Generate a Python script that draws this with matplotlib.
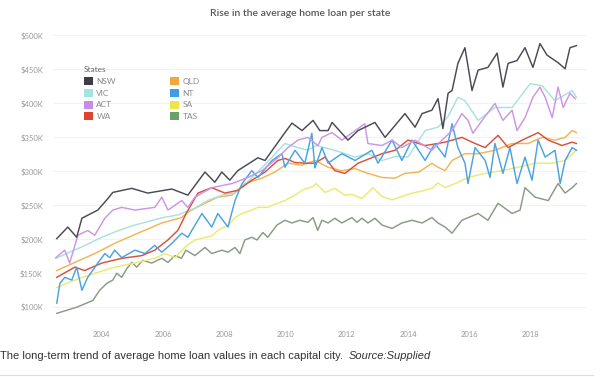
import matplotlib
matplotlib.use("Agg")
import matplotlib.pyplot as plt
from matplotlib.patches import Patch

# ---------------- data (values in $K, x in decimal years) ----------------
nsw_years = [2002.53, 2002.89, 2003.18, 2003.35, 2003.87, 2004.2, 2004.36, 2004.98, 2005.5, 2006.29,
             2006.81, 2007.37, 2007.69, 2007.92, 2008.18, 2008.44, 2009.1, 2009.33, 2009.98, 2010.21,
             2010.54, 2010.9, 2011.12, 2011.39, 2011.52, 2012.04, 2012.37, 2012.92, 2013.25, 2013.9,
             2014.23, 2014.46, 2014.78, 2014.98, 2015.14, 2015.31, 2015.44, 2015.63, 2015.86, 2016.09,
             2016.29, 2016.61, 2016.91, 2017.1, 2017.27, 2017.56, 2017.82, 2018.08, 2018.31, 2018.54,
             2018.9, 2019.13, 2019.29, 2019.5]
nsw_vals = [201, 218, 203, 231, 243, 260, 269, 275, 268, 274,
            265, 299, 284, 299, 287, 301, 320, 316, 357, 371,
            360, 375, 360, 360, 372, 346, 360, 372, 350, 385,
            365, 385, 390, 407, 363, 415, 419, 459, 482, 419,
            449, 453, 474, 424, 459, 463, 482, 453, 488, 471,
            460, 451, 482, 485]

vic_years = [2002.5, 2003.0, 2003.5, 2004.0, 2004.5, 2005.0, 2005.5, 2006.0, 2006.5, 2007.0,
             2007.5, 2008.0, 2008.35, 2008.7, 2009.0, 2009.5, 2009.98, 2010.4, 2010.73, 2011.0,
             2011.61, 2012.27, 2012.7, 2013.15, 2013.6, 2014.0, 2014.56, 2014.98, 2015.3, 2015.63,
             2015.86, 2016.29, 2016.84, 2017.4, 2017.99, 2018.38, 2018.8, 2019.36, 2019.5]
vic_vals = [172, 182, 192, 203, 212, 220, 226, 232, 236, 245,
            258, 266, 268, 282, 295, 318, 341, 335, 331, 338,
            331, 321, 326, 316, 322, 321, 360, 365, 380, 409,
            404, 375, 394, 394, 429, 426, 404, 419, 409]

act_years = [2002.5, 2002.79, 2002.95, 2003.22, 2003.54, 2003.77, 2004.1, 2004.36, 2004.65, 2005.08,
             2005.73, 2005.96, 2006.16, 2006.61, 2006.81, 2007.04, 2007.59, 2008.25, 2008.77, 2009.23,
             2009.75, 2010.08, 2010.41, 2010.73, 2011.06, 2011.19, 2011.52, 2011.84, 2012.59, 2012.69,
             2013.15, 2013.48, 2013.8, 2014.23, 2014.78, 2015.11, 2015.44, 2015.76, 2015.96, 2016.12,
             2016.42, 2016.84, 2017.1, 2017.4, 2017.56, 2017.82, 2018.08, 2018.31, 2018.48, 2018.71,
             2018.9, 2019.07, 2019.29, 2019.46]
act_vals = [173, 184, 165, 206, 213, 206, 231, 243, 247, 243,
            247, 262, 243, 257, 247, 262, 276, 282, 291, 301,
            320, 335, 346, 350, 338, 350, 357, 346, 370, 341,
            338, 346, 335, 346, 331, 346, 360, 385, 375, 356,
            375, 400, 375, 390, 360, 379, 409, 424, 409, 379,
            424, 394, 415, 407]

wa_years = [2002.53, 2003.12, 2003.44, 2004.0, 2004.65, 2005.31, 2005.73, 2006.16, 2006.48, 2006.78,
            2007.14, 2007.59, 2008.02, 2008.44, 2008.9, 2009.33, 2009.75, 2009.98, 2010.31, 2010.63,
            2010.96, 2011.29, 2011.61, 2011.94, 2012.37, 2013.15, 2013.58, 2014.0, 2014.56, 2014.98,
            2015.21, 2015.76, 2016.19, 2016.52, 2016.94, 2017.27, 2017.73, 2018.25, 2018.58, 2019.03,
            2019.36, 2019.5]
wa_vals = [144, 159, 154, 165, 172, 176, 184, 199, 213, 240,
           268, 276, 268, 272, 287, 299, 316, 319, 313, 312,
           312, 321, 301, 297, 312, 326, 331, 346, 338, 341,
           343, 350, 341, 335, 353, 335, 346, 357, 346, 338,
           343, 341]

qld_years = [2002.53, 2003.12, 2003.77, 2004.42, 2005.18, 2005.96, 2006.61, 2006.81, 2006.94, 2007.37,
             2007.79, 2008.25, 2008.67, 2009.23, 2009.65, 2010.08, 2010.54, 2010.96, 2011.39, 2011.84,
             2012.27, 2012.69, 2013.15, 2013.58, 2013.9, 2014.36, 2014.78, 2014.98, 2015.21, 2015.44,
             2015.86, 2016.29, 2016.84, 2017.4, 2017.92, 2018.38, 2018.8, 2019.13, 2019.36, 2019.5]
qld_vals = [154, 166, 179, 194, 209, 224, 232, 240, 243, 253,
            262, 265, 282, 290, 299, 312, 309, 316, 306, 301,
            304, 297, 291, 290, 297, 299, 312, 306, 301, 316,
            326, 326, 331, 341, 341, 350, 346, 350, 360, 357]

nt_years = [2002.53, 2002.63, 2002.79, 2003.02, 2003.18, 2003.35, 2003.54, 2003.87, 2004.1, 2004.26,
            2004.42, 2004.65, 2005.08, 2005.41, 2005.73, 2005.96, 2006.29, 2006.61, 2006.81, 2006.94,
            2007.27, 2007.59, 2007.79, 2008.12, 2008.35, 2008.58, 2008.9, 2009.1, 2009.56, 2009.88,
            2009.98, 2010.31, 2010.63, 2010.86, 2010.96, 2011.19, 2011.39, 2011.84, 2012.27, 2012.82,
            2013.02, 2013.48, 2013.8, 2014.13, 2014.56, 2014.88, 2015.21, 2015.44, 2015.63, 2015.86,
            2015.96, 2016.19, 2016.52, 2016.68, 2016.84, 2017.1, 2017.33, 2017.56, 2017.82, 2018.05,
            2018.25, 2018.48, 2018.8, 2018.97, 2019.13, 2019.36, 2019.5]
nt_vals = [106, 135, 144, 140, 159, 125, 144, 165, 179, 173,
           184, 173, 184, 179, 191, 181, 194, 209, 203, 213,
           238, 218, 238, 218, 257, 282, 301, 291, 316, 326,
           306, 331, 312, 356, 305, 335, 312, 326, 316, 331,
           312, 346, 316, 346, 316, 341, 321, 370, 335, 312,
           282, 335, 316, 291, 341, 297, 335, 282, 321, 287,
           346, 321, 331, 282, 316, 335, 331]

sa_years = [2002.53, 2003.12, 2003.77, 2004.42, 2005.08, 2005.73, 2006.06, 2006.39, 2006.75, 2007.04,
            2007.59, 2007.85, 2008.12, 2008.35, 2008.58, 2008.9, 2009.1, 2009.42, 2009.56, 2009.98,
            2010.3, 2010.54, 2010.9, 2011.0, 2011.29, 2011.61, 2011.94, 2012.17, 2012.5, 2012.85,
            2013.15, 2013.48, 2013.8, 2014.13, 2014.46, 2014.78, 2014.98, 2015.21, 2015.54, 2015.96,
            2016.52, 2017.07, 2017.59, 2018.15, 2018.71, 2019.13, 2019.5]
sa_vals = [129, 140, 150, 159, 165, 172, 179, 173, 190, 199,
           205, 215, 220, 232, 238, 243, 247, 247, 250, 257,
           265, 272, 278, 282, 269, 275, 265, 266, 260, 276,
           263, 258, 263, 268, 271, 275, 283, 276, 282, 291,
           297, 301, 306, 312, 312, 316, 331]

tas_years = [2002.53, 2003.18, 2003.71, 2003.93, 2004.16, 2004.36, 2004.49, 2004.65, 2004.82, 2004.98,
             2005.14, 2005.34, 2005.63, 2005.96, 2006.16, 2006.39, 2006.6, 2006.75, 2007.04, 2007.37,
             2007.59, 2007.92, 2008.12, 2008.35, 2008.51, 2008.67, 2008.9, 2009.07, 2009.26, 2009.42,
             2009.72, 2009.98, 2010.21, 2010.47, 2010.73, 2010.9, 2011.05, 2011.19, 2011.39, 2011.61,
             2011.84, 2012.17, 2012.33, 2012.5, 2012.69, 2012.92, 2013.15, 2013.48, 2013.8, 2014.13,
             2014.46, 2014.78, 2014.98, 2015.21, 2015.44, 2015.76, 2016.29, 2016.61, 2016.94, 2017.4,
             2017.66, 2017.82, 2018.15, 2018.58, 2018.9, 2019.13, 2019.36, 2019.5]
tas_vals = [91, 100, 110, 125, 135, 140, 150, 144, 157, 166,
            159, 169, 165, 172, 166, 176, 172, 184, 176, 188,
            179, 184, 181, 188, 179, 199, 203, 199, 210, 203,
            221, 228, 224, 228, 225, 232, 213, 228, 224, 231,
            224, 232, 225, 231, 224, 231, 221, 216, 224, 228,
            224, 232, 224, 218, 209, 228, 238, 228, 253, 238,
            243, 276, 262, 257, 282, 268, 276, 282]

states = ["NSW", "VIC", "ACT", "WA", "QLD", "NT", "SA", "TAS"]
colors = {"NSW": "#3d3d4a", "VIC": "#a3e4e2", "ACT": "#c98ce4", "WA": "#e0442f",
          "QLD": "#f4a83c", "NT": "#3c9fe3", "SA": "#eee54a", "TAS": "#6aa06a"}
line_colors = {"NSW": "#4a4a52", "VIC": "#a8e2e0", "ACT": "#cc96e6", "WA": "#d9513c",
               "QLD": "#f3b455", "NT": "#4aa3e2", "SA": "#ecea70", "TAS": "#8a9a88"}
series = {"NSW": (nsw_years, nsw_vals), "VIC": (vic_years, vic_vals), "ACT": (act_years, act_vals),
          "WA": (wa_years, wa_vals), "QLD": (qld_years, qld_vals), "NT": (nt_years, nt_vals),
          "SA": (sa_years, sa_vals), "TAS": (tas_years, tas_vals)}

y_ticks = [100, 150, 200, 250, 300, 350, 400, 450, 500]
x_ticks = [2004, 2006, 2008, 2010, 2012, 2014, 2016, 2018]

# ---------------- figure ----------------
fig = plt.figure(figsize=(6.0, 3.77), dpi=100)
ax = fig.add_axes([0.088, 0.149, 0.888, 0.793])

draw_order = ["TAS", "SA", "QLD", "VIC", "WA", "NT", "ACT", "NSW"]
for st in draw_order:
    xs, ys = series[st]
    ax.plot(xs, ys, color=line_colors[st], lw=1.05, solid_joinstyle="round")

ax.set_xlim(2002.4, 2019.8)
ax.set_ylim(80, 520)
ax.set_yticks(y_ticks)
ax.set_yticklabels([f"${v}K" for v in y_ticks])
ax.set_xticks(x_ticks)
ax.set_xticklabels([str(v) for v in x_ticks])
ax.tick_params(axis="both", length=0, labelsize=5.5, labelcolor="#9a9a9a", pad=7)
for lab in ax.get_xticklabels() + ax.get_yticklabels():
    lab.set_family("Lato")
ax.grid(axis="y", color="#f2f2f2", lw=0.8)
ax.set_axisbelow(True)
for sp in ax.spines.values():
    sp.set_visible(False)

handles = [Patch(facecolor=colors[s], edgecolor="none", label=s) for s in states]
leg = fig.legend(handles=handles, loc="upper left", bbox_to_anchor=(0.133, 0.835),
                 ncol=2, frameon=False, title="States", fontsize=6, title_fontsize=6,
                 handlelength=1.1, handleheight=1.1, handletextpad=0.4, labelspacing=0.45,
                 columnspacing=6.5, borderpad=0, alignment="left",
                 prop={"family": "Lato", "size": 6})
leg.get_title().set_color("#666666")
leg.get_title().set_family("Lato")
for t in leg.get_texts():
    t.set_color("#8a8a8a")

fig.text(0.5, 0.963, "Rise in the average home loan per state", ha="center", va="center",
         fontsize=7.5, color="#555555", family="Lato", fontweight="semibold")

cap_y = 1 - 356 / 377
t1 = fig.text(0.0, cap_y, "The long-term trend of average home loan values in each capital city.  ",
              ha="left", va="center", fontsize=8, color="#333333", family="Liberation Sans")
fig.canvas.draw()
bb = t1.get_window_extent()
fig.text(bb.x1 / fig.bbox.width, cap_y, "Source:Supplied", ha="left", va="center",
         fontsize=8, color="#333333", family="Liberation Sans", style="italic")

fig.add_artist(plt.Line2D([0.0, 0.988], [1 - 375 / 377] * 2, color="#dddddd", lw=0.8))

fig.savefig("out.png", dpi=100, facecolor="white")
